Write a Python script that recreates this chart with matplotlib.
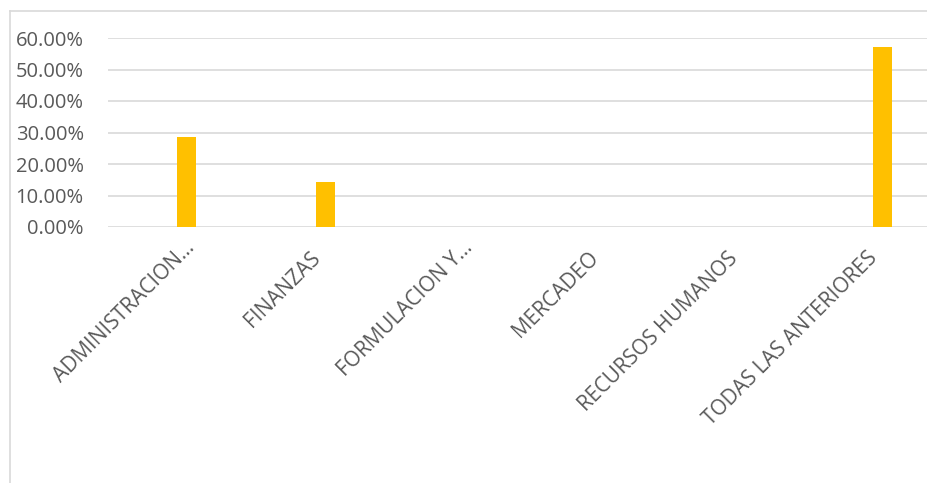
import matplotlib
matplotlib.use("Agg")
import matplotlib.pyplot as plt
import matplotlib.transforms as mtransforms
from matplotlib.lines import Line2D
from matplotlib.ticker import FuncFormatter

# data
categorias = ["ADMINISTRACION…", "FINANZAS", "FORMULACION Y…",
              "MERCADEO", "RECURSOS HUMANOS", "TODAS LAS ANTERIORES"]
porcentajes = [0.2857, 0.1429, 0.0, 0.0, 0.0, 0.5714]
yticks = [0.0, 0.1, 0.2, 0.3, 0.4, 0.5, 0.6]

gris_txt = "#595959"
gris_lin = "#d9d9d9"
amarillo = "#ffc000"

plt.rcParams['font.family'] = ['Open Sans', 'DejaVu Sans']

W, H = 927, 483
fig = plt.figure(figsize=(W / 100, H / 100), dpi=100)

# axes in pixel coords: left 108, right 927 (cropped), y0 at 227, y60 at 38
x0, x1 = 108, 927
ytop, ybot = 38, 227
ax = fig.add_axes([x0 / W, 1 - ybot / H, (x1 - x0) / W, (ybot - ytop) / H])

xs = list(range(len(categorias)))
ax.bar(xs, porcentajes, width=0.136, color=amarillo, zorder=3)

ax.set_ylim(0, 0.6)
ax.set_yticks(yticks)
ax.yaxis.set_major_formatter(FuncFormatter(lambda v, p: f"{v*100:.2f}%"))
ax.set_xlim(-0.565, 5.32)
ax.set_xticks(xs)
ax.set_xticklabels(categorias, rotation=45, ha='right', va='top',
                   rotation_mode='anchor')

ax.grid(axis='y', color=gris_lin, linewidth=1.2, zorder=0)
for s in ax.spines.values():
    s.set_visible(False)
ax.tick_params(axis='y', length=0, colors=gris_txt, labelsize=14.5, pad=17.5)
ax.tick_params(axis='x', length=0, colors=gris_txt, labelsize=15, pad=15)

# excel puts the rotated labels a bit left of the tick,
# truncated ones (with …) sit higher up
for lbl in ax.get_xticklabels():
    if lbl.get_text().endswith("…"):
        dx, dy = -3, 11
    else:
        dx, dy = -16, 0
    off = mtransforms.ScaledTranslation(dx / 100, dy / 100, fig.dpi_scale_trans)
    lbl.set_transform(lbl.get_transform() + off)

# chart area border (cropped on right and bottom)
fig.add_artist(Line2D([10 / W, 10 / W], [0, 1 - 11 / H], color=gris_lin,
                      linewidth=1.2, transform=fig.transFigure))
fig.add_artist(Line2D([10 / W, 1], [1 - 11 / H, 1 - 11 / H], color=gris_lin,
                      linewidth=1.2, transform=fig.transFigure))

fig.savefig("out.png", dpi=100)
